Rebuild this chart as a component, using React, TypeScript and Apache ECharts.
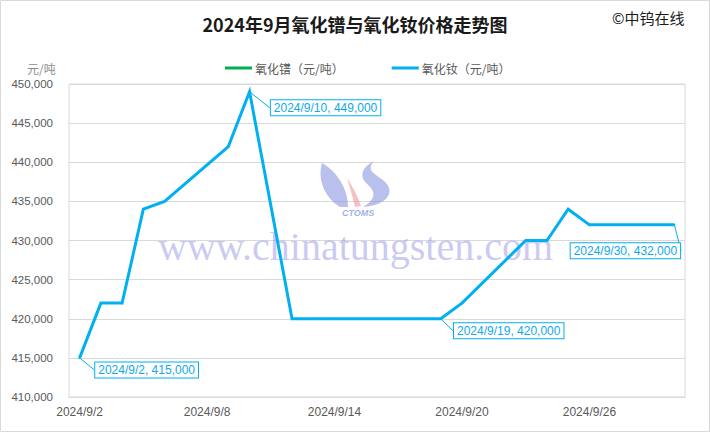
import React, { useEffect, useRef } from "react";
import * as echarts from "echarts";

const categories = [
  "2024/9/2", "2024/9/3", "2024/9/4", "2024/9/5", "2024/9/6", "2024/9/7", "2024/9/8",
  "2024/9/9", "2024/9/10", "2024/9/11", "2024/9/12", "2024/9/13", "2024/9/14", "2024/9/15",
  "2024/9/16", "2024/9/17", "2024/9/18", "2024/9/19", "2024/9/20", "2024/9/21", "2024/9/22",
  "2024/9/23", "2024/9/24", "2024/9/25", "2024/9/26", "2024/9/27", "2024/9/28", "2024/9/29",
  "2024/9/30",
];

const neodymiumOxidePrices: (number | null)[] = [
  415000, 422000, 422000, 434000, 435000, null, null,
  442000, 449000, null, 420000, 420000, 420000, null,
  null, null, 420000, 420000, 422000, null, null,
  430000, 430000, 434000, 432000, 432000, null, 432000,
  432000,
];

const praseodymiumOxidePrices: (number | null)[] = [];

const labelledIndices = [0, 8, 17, 28];
const yTicks = { min: 410000, max: 450000, interval: 5000 };

const BLUE = "#00b0f0";
const GREEN = "#00b050";

const labelOffsets: Record<number, [number, number]> = {
  0: [67, 12],
  8: [76, 16],
  17: [68, 12],
  28: [-49, 26],
};

const fmt = (v: number) => v.toLocaleString("en-US");

const leftSwoosh = "M322,163 C317,180 325,198 340,207 L348,207 C348,190 338,172 322,163 Z";
const pinkStroke = "M347,178 C352,186 358,196 361,206 L355,207 C353,198 350,188 347,178 Z";
const rightS =
  "M374,161 C362,167 359,176 366,183 C374,190 379,197 363,207 C380,206 392,198 389,188 C387,180 373,175 371,170 C370,166 372,163 374,161 Z";

let registered = false;
function registerShapes() {
  if (registered) return;
  registered = true;
  echarts.graphic.registerShape("logoLeft", echarts.graphic.extendPath(leftSwoosh, {}));
  echarts.graphic.registerShape("logoPink", echarts.graphic.extendPath(pinkStroke, {}));
  echarts.graphic.registerShape("logoRight", echarts.graphic.extendPath(rightS, {}));
}

export default function App() {
  const ref = useRef<HTMLDivElement>(null);
  useEffect(() => {
    if (!ref.current) return;
    registerShapes();
    const chart = echarts.init(ref.current, undefined, { renderer: "svg" });
    const numFont = "'Liberation Sans', Arial, sans-serif";
    const cjkFont = "'Noto Sans CJK SC', sans-serif";

    const ndData = neodymiumOxidePrices.map((v, i) =>
      labelledIndices.includes(i)
        ? { value: v, label: { show: true } }
        : v
    );

    chart.setOption({
      animation: false,
      backgroundColor: "#ffffff",
      title: {
        text: "2024年9月氧化镨与氧化钕价格走势图",
        left: "center",
        top: 10,
        textStyle: { fontFamily: cjkFont, fontSize: 18, fontWeight: "bold", color: "#1a1a1a" },
      },
      legend: {
        left: 220,
        top: 57,
        itemGap: 48,
        itemWidth: 27,
        itemHeight: 3,
        icon: "rect",
        textStyle: { fontFamily: cjkFont, fontSize: 12, color: "#595959", padding: [0, 0, 0, -2] },
        data: ["氧化镨（元/吨）", "氧化钕（元/吨）"],
      },
      grid: {
        left: 69,
        right: 25,
        top: 84,
        bottom: 35,
        show: true,
        borderColor: "#d9d9d9",
        borderWidth: 1,
      },
      xAxis: {
        type: "category",
        data: categories,
        boundaryGap: true,
        axisTick: { show: false },
        axisLine: { lineStyle: { color: "#d9d9d9" } },
        axisLabel: {
          interval: 5,
          margin: 9,
          color: "#595959",
          fontFamily: numFont,
          fontSize: 12,
        },
      },
      yAxis: {
        type: "value",
        min: yTicks.min,
        max: yTicks.max,
        interval: yTicks.interval,
        axisLine: { show: false },
        axisTick: { show: false },
        splitLine: { lineStyle: { color: "#d9d9d9" } },
        axisLabel: {
          margin: 16,
          color: "#595959",
          fontFamily: numFont,
          fontSize: 11.5,
          formatter: (v: number) => fmt(v),
        },
      },
      graphic: [
        {
          type: "rect",
          shape: { x: 0.5, y: 0.5, width: 709, height: 431 },
          style: { fill: "none", stroke: "#d9d9d9", lineWidth: 1 },
          z: 0,
          silent: true,
        },
        {
          type: "text",
          x: 612,
          y: 10,
          style: {
            text: "©中钨在线",
            fontFamily: cjkFont,
            fontSize: 15,
            fill: "#1a1a1a",
          },
        },
        {
          type: "text",
          x: 27,
          y: 62,
          style: { text: "元/吨", fontFamily: cjkFont, fontSize: 12, fill: "#8c8c8c" },
        },
        {
          type: "text",
          x: 158,
          y: 226,
          z: 1,
          silent: true,
          style: {
            text: "www.chinatungsten.com",
            fontFamily: "'Liberation Serif', 'DejaVu Serif', serif",
            fontSize: 40,
            fill: "rgba(150,150,230,0.5)",
          },
        },
        { type: "logoLeft", x: 0, y: 0, z: 1, silent: true, style: { fill: "rgba(130,140,220,0.55)" } },
        { type: "logoPink", x: 0, y: 0, z: 1, silent: true, style: { fill: "rgba(240,140,150,0.55)" } },
        { type: "logoRight", x: 0, y: 0, z: 1, silent: true, style: { fill: "rgba(130,140,220,0.55)" } },
        {
          type: "text",
          x: 342,
          y: 208,
          z: 1,
          silent: true,
          style: {
            text: "CTOMS",
            fontFamily: "'Liberation Sans', Arial, sans-serif",
            fontSize: 9,
            fontWeight: "bold",
            fontStyle: "italic",
            fill: "rgba(120,140,225,0.7)",
          },
        },
      ],
      series: [
        {
          name: "氧化镨（元/吨）",
          type: "line",
          data: praseodymiumOxidePrices,
          color: GREEN,
          showSymbol: false,
          lineStyle: { width: 3, color: GREEN },
        },
        {
          name: "氧化钕（元/吨）",
          type: "line",
          data: ndData,
          color: BLUE,
          connectNulls: true,
          symbol: "circle",
          symbolSize: 2,
          showSymbol: true,
          z: 5,
          itemStyle: { color: BLUE },
          lineStyle: { width: 3, color: BLUE, join: "miter" },
          label: {
            show: false,
            position: "inside",
            formatter: (p: any) => `${categories[p.dataIndex]}, ${fmt(p.value)}`,
            color: "#10a8e6",
            fontFamily: numFont,
            fontSize: 12,
            backgroundColor: "#ffffff",
            borderColor: BLUE,
            borderWidth: 1,
            padding: [2, 3, 1, 3],
          },
          labelLine: { show: true, lineStyle: { color: BLUE, width: 1 } },
          labelLayout: (params: any) => {
            const o = labelOffsets[params.dataIndex];
            if (!o) return {};
            return { dx: o[0], dy: o[1] };
          },
          emphasis: { disabled: true },
        },
      ],
    });
    return () => chart.dispose();
  }, []);
  return (
    <div
      ref={ref}
      style={{ position: "absolute", left: 0, top: 0, width: 710, height: 432, background: "#fff" }}
    />
  );
}
